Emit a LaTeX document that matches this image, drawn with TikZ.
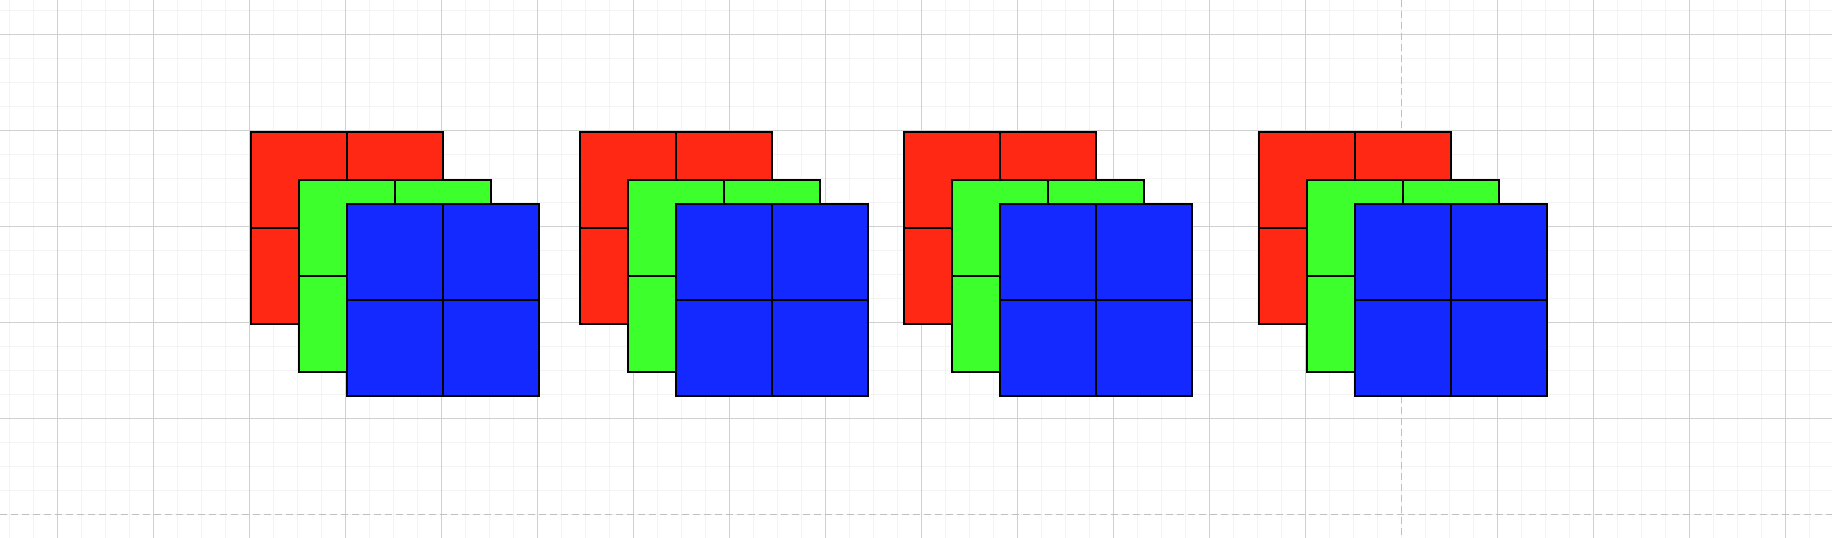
\documentclass[tikz,border=0pt]{standalone}
\usepackage{tikz}
\usetikzlibrary{positioning}

\definecolor{sqred}{RGB}{255,40,20}
\definecolor{sqgreen}{RGB}{61,255,43}
\definecolor{sqblue}{RGB}{19,41,255}
\definecolor{minorgrey}{RGB}{243,243,243}
\definecolor{majorgrey}{RGB}{208,208,208}
\definecolor{guidegrey}{RGB}{192,192,192}

\begin{document}
\begin{tikzpicture}[x=1pt, y=-1pt,
        minorline/.style={draw=minorgrey, line width=1.2pt},
        majorline/.style={draw=majorgrey, line width=0.8pt},
        guideline/.style={draw=guidegrey, line width=1.3pt, dash pattern=on 7pt off 4pt},
        layer/.style={draw, line width=2pt, minimum size=192pt, inner sep=0pt, outer sep=0pt, anchor=north west},
        divider/.style={line width=2pt}
      ]
      \useasboundingbox[fill=white] (0,0) rectangle (1832,538);
      % page grid
      \foreach \k in {0,...,75} \draw[minorline] (9.3+24*\k,0) -- (9.3+24*\k,538);
      \foreach \k in {0,...,21} \draw[minorline] (0,10.3+24*\k) -- (1832,10.3+24*\k);
      \foreach \k in {0,...,13,15,16,17,18} \draw[majorline] (57.3+96*\k,0) -- (57.3+96*\k,538);
      \foreach \k in {0,...,4} \draw[majorline] (0,34.3+96*\k) -- (1832,34.3+96*\k);
      \draw[guideline] (1401.3,0) -- (1401.3,538);
      \draw[guideline] (0,514.3) -- (1832,514.3);
      % stacked channels
      \foreach \gx/\i in {251/1, 579.7/2, 904.3/3, 1258.7/4} {
        \node[layer, fill=sqred] (red\i) at (\gx,131.7) {};
        \draw[divider] (red\i.north) -- (red\i.south) (red\i.west) -- (red\i.east);
        \node[layer, fill=sqgreen, below right=48pt and 48pt of red\i.north west] (green\i) {};
        \draw[divider] (green\i.north) -- (green\i.south) (green\i.west) -- (green\i.east);
        \node[layer, fill=sqblue, below right=72pt and 96pt of red\i.north west] (blue\i) {};
        \draw[divider] (blue\i.north) -- (blue\i.south) (blue\i.west) -- (blue\i.east);
      }
    \end{tikzpicture}
\end{document}
